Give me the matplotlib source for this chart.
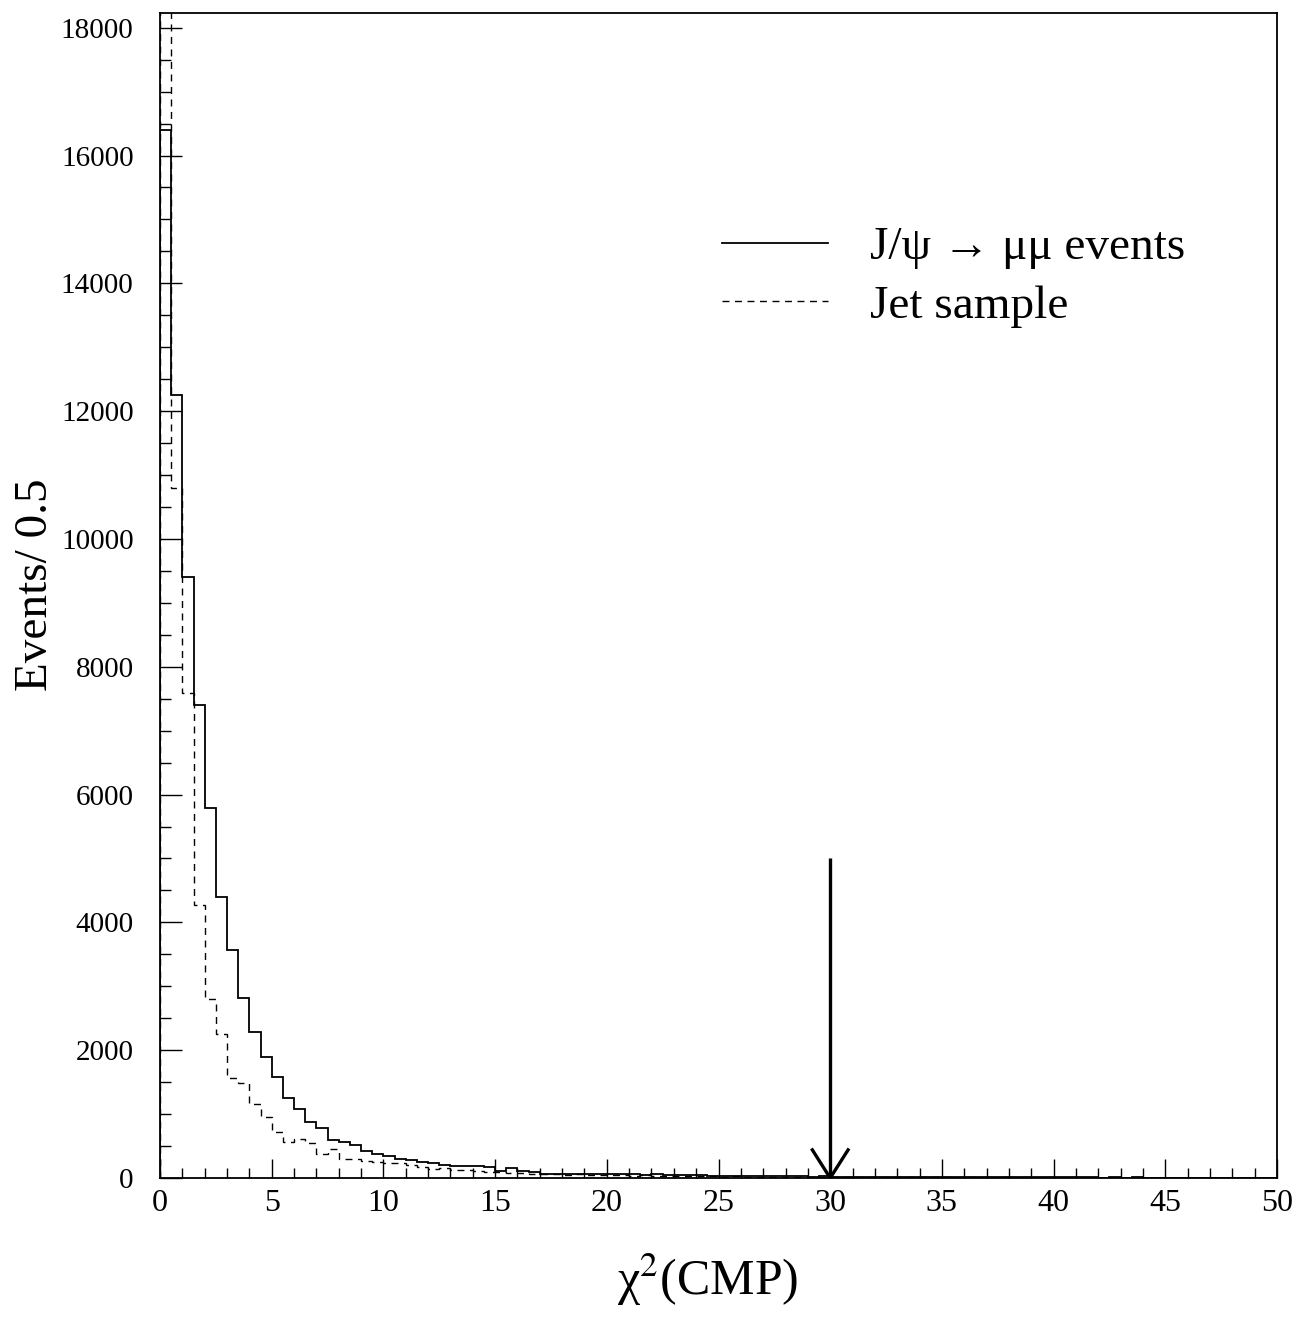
import numpy as np
import matplotlib
matplotlib.use("Agg")
import matplotlib.pyplot as plt
from matplotlib.ticker import MultipleLocator
from matplotlib.lines import Line2D

plt.rcParams['font.family'] = ['Liberation Serif', 'DejaVu Serif']
plt.rcParams['mathtext.fontset'] = 'stix'

# ---- data ----
bin_edges = np.arange(0, 50.5, 0.5)

jpsi_counts = [
    16400, 12250, 9400, 7400, 5790, 4400, 3570, 2820, 2280, 1900,
    1580, 1255, 1080, 870, 780, 600, 560, 515, 430, 375,
    340, 300, 275, 250, 230, 210, 195, 185, 180, 170,
    110, 150, 105, 95, 70, 65, 60, 60, 55, 60,
    65, 70, 60, 50, 55, 50, 45, 50, 40, 35,
    35, 30, 35, 30, 25, 25, 30, 25, 20, 25,
    20, 15, 20, 15, 15, 15, 20, 15, 10, 15,
    10, 12, 8, 10, 10, 8, 10, 15, 10, 8,
    10, 8, 8, 10, 6, 8, 6, 8, 6, 6,
    5, 6, 5, 6, 5, 4, 5, 4, 5, 4,
]

jet_counts = [
    21000, 10800, 7590, 4270, 2800, 2260, 1570, 1480, 1160, 960,
    725, 570, 605, 545, 375, 450, 300, 300, 270, 250,
    240, 230, 200, 170, 140, 150, 120, 130, 110, 95,
    90, 80, 85, 60, 70, 55, 50, 60, 45, 40,
    50, 40, 35, 40, 30, 35, 30, 25, 30, 25,
    20, 25, 20, 20, 15, 20, 15, 15, 12, 15,
    12, 10, 12, 10, 10, 8, 10, 8, 10, 8,
    8, 6, 8, 6, 6, 8, 6, 5, 6, 5,
    5, 6, 4, 5, 4, 5, 4, 4, 5, 4,
    3, 4, 3, 4, 3, 3, 4, 3, 3, 3,
]

series_labels = [r"J/ψ → μμ events", "Jet sample"]
cut_value = 30.0
arrow_top = 5000
arrow_head_dx = 0.8
arrow_head_dy = 440

xticks_major = [0, 5, 10, 15, 20, 25, 30, 35, 40, 45, 50]
yticks_major = [0, 2000, 4000, 6000, 8000, 10000, 12000, 14000, 16000, 18000]

# ---- figure ----
fig = plt.figure(figsize=(12.96, 13.23), dpi=100)
ax = fig.add_axes([160/1296, 1 - 1178/1323, (1277-160)/1296, (1178-13)/1323])

ax.stairs(jpsi_counts, bin_edges, color='black', lw=1.3, linestyle='-')
ax.stairs(jet_counts, bin_edges, color='black', lw=1.0, linestyle=(0, (5, 4)))

# cut arrow
ax.plot([cut_value, cut_value], [0, arrow_top], color='black', lw=2.4, solid_capstyle='butt')
ax.plot([cut_value - arrow_head_dx, cut_value, cut_value + arrow_head_dx],
        [arrow_head_dy, 0, arrow_head_dy], color='black', lw=2.4)

ax.set_xlim(0, 50)
ax.set_ylim(0, 18230)

ax.set_xticks(xticks_major)
ax.set_yticks(yticks_major)
ax.xaxis.set_minor_locator(MultipleLocator(1))
ax.yaxis.set_minor_locator(MultipleLocator(500))
ax.tick_params(axis='x', which='major', direction='in', length=14, width=1.0, labelsize=23, pad=8)
ax.tick_params(axis='x', which='minor', direction='in', length=7, width=1.0)
ax.tick_params(axis='y', which='major', direction='in', length=16, width=1.0, labelsize=21, pad=19)
ax.tick_params(axis='y', which='minor', direction='in', length=8, width=1.0)
ax.tick_params(top=False, right=False, which='both')

for s in ax.spines.values():
    s.set_linewidth(1.3)

ax.set_ylabel("Events/ 0.5", fontsize=34)
ax.yaxis.set_label_coords(-0.092, 0.509)
ax.set_xlabel(r"χ$^{2}$(CMP)", fontsize=36)
ax.xaxis.set_label_coords(0.49, -0.063)

handles = [Line2D([], [], color='black', lw=1.3, linestyle='-'),
           Line2D([], [], color='black', lw=1.0, linestyle=(0, (5, 4)))]
leg = ax.legend(handles, series_labels, loc='upper left',
                bbox_to_anchor=((722-160)/1117, (1178-226)/1165),
                frameon=False, fontsize=34, handlelength=2.25, handletextpad=0.88,
                labelspacing=0.33, borderpad=0, borderaxespad=0)

fig.savefig("out.png", dpi=100)
